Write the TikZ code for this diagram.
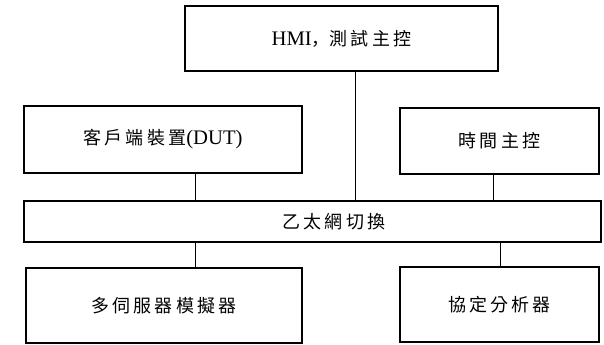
\documentclass[tikz,border=0pt]{standalone}
\usepackage{fontspec}
\setmainfont{Liberation Serif}
\newfontfamily\cjk[LetterSpace=18,Scale=0.87]{Noto Sans CJK TC}
\newfontfamily\cjkp[Scale=0.87]{Noto Sans CJK JP}
\begin{document}
\begin{tikzpicture}[x=0.75pt,y=-0.75pt,
  box/.style={draw=black,line width=1.4pt,inner sep=0pt,font=\fontsize{15.5}{18}\selectfont},
  link/.style={draw=black,line width=0.7pt}]
\useasboundingbox (0,0) rectangle (604,345);
\node[box,minimum width=313*0.75pt,minimum height=65*0.75pt] (hmi) at (341.5,38.5)
  {HMI{\cjkp ，}{\cjk 測試主控}};
\node[box,minimum width=278*0.75pt,minimum height=67*0.75pt] (dut) at (163,139.5)
  {{\cjk 客戶端裝置}(DUT)};
\node[box,minimum width=199*0.75pt,minimum height=66*0.75pt] (time) at (499.5,141)
  {{\cjk 時間主控}};
\node[box,minimum width=577*0.75pt,minimum height=41*0.75pt,
  label={[xshift=16pt,font=\fontsize{15.5}{18}\selectfont]center:{\cjk 乙太網切換}}] (eth) at (312.5,221.5) {};
\node[box,minimum width=276*0.75pt,minimum height=75*0.75pt] (sim) at (164,305.5)
  {{\cjk 多伺服器模擬器}};
\node[box,minimum width=199*0.75pt,minimum height=75*0.75pt] (ana) at (499.5,304.5)
  {{\cjk 協定分析器}};
\draw[link] (hmi.south -| 355.7,0) -- (eth.north -| 355.7,0);
\draw[link] (dut.south -| 195.7,0) -- (eth.north -| 195.7,0);
\draw[link] (time.south -| 493,0) -- (eth.north -| 493,0);
\draw[link] (eth.south -| 195.7,0) -- (sim.north -| 195.7,0);
\draw[link] (eth.south -| 500,0) -- (ana.north -| 500,0);
\end{tikzpicture}
\end{document}
